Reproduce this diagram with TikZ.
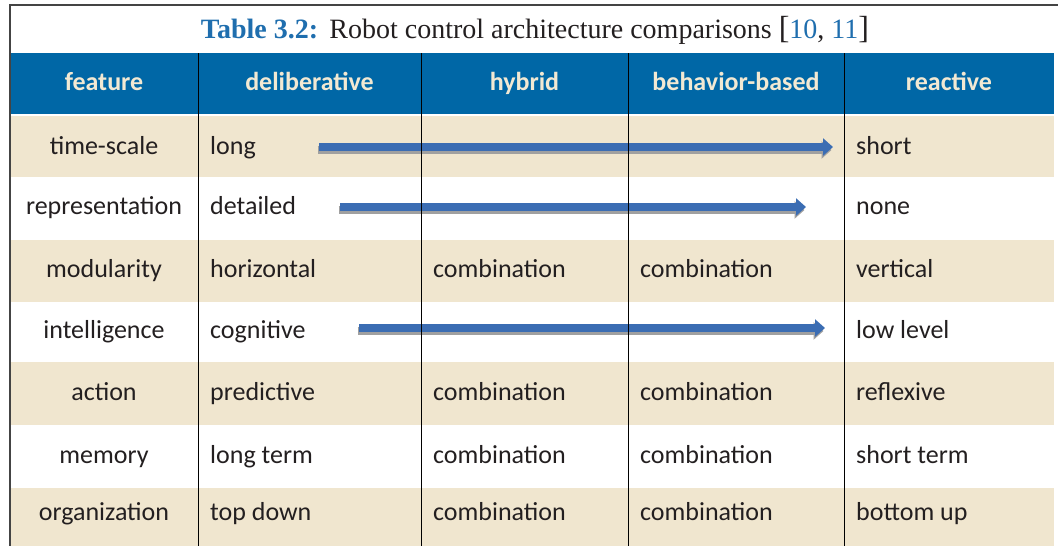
\documentclass[tikz,border=0pt]{standalone}
\usepackage{fontspec}
\setmainfont{Liberation Serif}
\newfontfamily\cellfont{Carlito}
\usetikzlibrary{arrows.meta}

\definecolor{hdrblue}{HTML}{0067A6}
\definecolor{rowcream}{HTML}{F0E6CF}
\definecolor{hdrtext}{HTML}{F2E9D3}
\definecolor{ink}{HTML}{231F20}
\definecolor{ttlblue}{HTML}{1F6EAE}
\definecolor{arrowblue}{HTML}{3B6DB3}
\definecolor{shadowgray}{HTML}{A0A0A0}
\definecolor{framegray}{HTML}{444444}

\tikzset{
  cell/.style={font=\cellfont\fontsize{26}{30}\selectfont, text=ink,
    anchor=base west, inner sep=0pt},
  featcell/.style={cell, anchor=base},
  hdrcell/.style={font=\cellfont\bfseries\fontsize{26}{30}\selectfont,
    text=hdrtext, anchor=base, inner sep=0pt},
  trendarrow/.style={line width=8pt, draw=arrowblue,
    -{Triangle[length=10pt,width=17pt]}},
  trendshadow/.style={line width=8pt, draw=shadowgray,
    -{Triangle[length=10pt,width=17pt]},
    transform canvas={shift={(-1.5,3)}}},
  colrule/.style={draw=black, line width=0.9pt},
  framerule/.style={draw=framegray, line width=1.4pt},
}

\begin{document}
\begin{tikzpicture}[x=1pt,y=-1pt]
\useasboundingbox (0,0) rectangle (1058,546);

% header band and alternating row bands
\fill[hdrblue] (10,53) rectangle (1054,113.5);
\fill[rowcream] (10,116) rectangle (1054,177);
\fill[rowcream] (10,240) rectangle (1054,302);
\fill[rowcream] (10,362) rectangle (1054,425);
\fill[rowcream] (10,488) rectangle (1054,546);

% caption
\node[anchor=base, inner sep=0pt, font=\fontsize{28}{32}\selectfont, text=ink]
  (caption) at (535,38)
  {\textcolor{ttlblue}{\textbf{Table 3.2:}}\hspace{0.4em}Robot control architecture comparisons
   {\fontsize{32}{32}\selectfont[}\textcolor{ttlblue}{10}, \textcolor{ttlblue}{11}{\fontsize{32}{32}\selectfont]}};

% header cells
\node[hdrcell] (hfeat) at (104,90) {feature};
\node[hdrcell] (hdel)  at (309.5,90) {deliberative};
\node[hdrcell] (hhyb)  at (524.5,90) {hybrid};
\node[hdrcell] (hbeh)  at (736,90) {behavior-based};
\node[hdrcell] (hrea)  at (949,90) {reactive};

% feature column
\node[featcell] (f1) at (104,154) {time-scale};
\node[featcell] (f2) at (104,214) {representation};
\node[featcell] (f3) at (104,277) {modularity};
\node[featcell] (f4) at (104,338) {intelligence};
\node[featcell] (f5) at (104,400) {action};
\node[featcell] (f6) at (104,463) {memory};
\node[featcell] (f7) at (104,520) {organization};

% deliberative column
\node[cell] (d1) at (210,154) {long};
\node[cell] (d2) at (210,214) {detailed};
\node[cell] (d3) at (210,277) {horizontal};
\node[cell] (d4) at (210,338) {cognitive};
\node[cell] (d5) at (210,400) {predictive};
\node[cell] (d6) at (210,463) {long term};
\node[cell] (d7) at (210,520) {top down};

% hybrid column
\node[cell] (y3) at (433,277) {combination};
\node[cell] (y5) at (433,400) {combination};
\node[cell] (y6) at (433,463) {combination};
\node[cell] (y7) at (433,520) {combination};

% behavior-based column
\node[cell] (b3) at (640,277) {combination};
\node[cell] (b5) at (640,400) {combination};
\node[cell] (b6) at (640,463) {combination};
\node[cell] (b7) at (640,520) {combination};

% reactive column
\node[cell] (r1) at (856,154) {short};
\node[cell] (r2) at (856,214) {none};
\node[cell] (r3) at (856,277) {vertical};
\node[cell] (r4) at (856,338) {low level};
\node[cell] (r5) at (856,400) {reflexive};
\node[cell] (r6) at (856,463) {short term};
\node[cell] (r7) at (856,520) {bottom up};

% trend arrows spanning the intermediate columns
\coordinate (a1s) at (319,147);
\coordinate (a1e) at (833,147);
\coordinate (a2s) at (340,207);
\coordinate (a2e) at (806,207);
\coordinate (a3s) at (359,328);
\coordinate (a3e) at (825,328);
\foreach \s/\e in {a1s/a1e, a2s/a2e, a3s/a3e} {
  \draw[trendshadow] (\s) -- (\e);
  \draw[trendarrow] (\s) -- (\e);
}

% column rules
\foreach \x in {198,421,628,844}
  \draw[colrule] (\x,53) -- (\x,546);

% outer frame
\draw[framerule] (10,546) -- (10,5) -- (1058,5);
\end{tikzpicture}
\end{document}
